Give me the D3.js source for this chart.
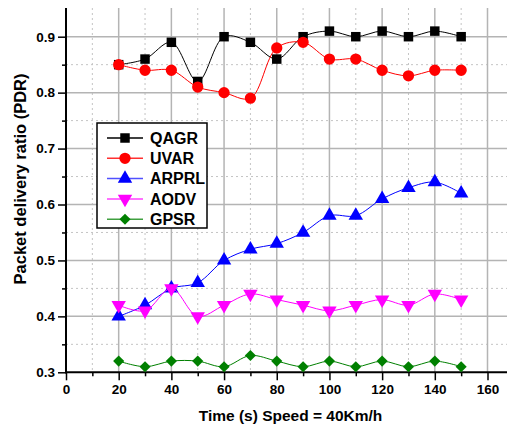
<!DOCTYPE html>
<html>
<head>
<meta charset="utf-8">
<script src="https://cdn.jsdelivr.net/npm/d3@7"></script>
<style>
  body { margin: 0; background: #fff; }
  svg { display: block; font-family: Arial, "Liberation Sans", sans-serif; }
</style>
</head>
<body>
<div id="chart"></div>
<script>
// data
const times = [20, 30, 40, 50, 60, 70, 80, 90, 100, 110, 120, 130, 140, 150];
const seriesNames = ["QAGR", "UVAR", "ARPRL", "AODV", "GPSR"];
const qagr  = [0.85, 0.86, 0.89, 0.82, 0.90, 0.89, 0.86, 0.90, 0.91, 0.90, 0.91, 0.90, 0.91, 0.90];
const uvar  = [0.85, 0.84, 0.84, 0.81, 0.80, 0.79, 0.88, 0.89, 0.86, 0.86, 0.84, 0.83, 0.84, 0.84];
const arprl = [0.40, 0.42, 0.45, 0.46, 0.50, 0.52, 0.53, 0.55, 0.58, 0.58, 0.61, 0.63, 0.64, 0.62];
const aodv  = [0.42, 0.41, 0.45, 0.40, 0.42, 0.44, 0.43, 0.42, 0.41, 0.42, 0.43, 0.42, 0.44, 0.43];
const gpsr  = [0.32, 0.31, 0.32, 0.32, 0.31, 0.33, 0.32, 0.31, 0.32, 0.31, 0.32, 0.31, 0.32, 0.31];
const xTicks = [0, 20, 40, 60, 80, 100, 120, 140, 160];
const yTicks = [0.3, 0.4, 0.5, 0.6, 0.7, 0.8, 0.9];

const width = 507, height = 428;
const plotLeft = 66, plotRight = 487.5, plotTop = 8, plotBottom = 372.3;

const svg = d3.select("#chart").append("svg")
    .attr("width", width)
    .attr("height", height);

const x = d3.scaleLinear().domain([0, 160]).range([plotLeft, plotRight]);
const y = d3.scaleLinear().domain([0.3, 0.9]).range([plotBottom, 36.7]);

// rotate: degrees applied to the symbol (down triangle, diamond from a square)
const styles = [
    { color: "#000000", legendColor: "#000000", symbol: d3.symbolSquare, size: 90, rotate: 0 },
    { color: "#ff0000", legendColor: "#ff3030", symbol: d3.symbolCircle, size: 100, rotate: 0 },
    { color: "#0000ff", legendColor: "#5050ff", symbol: d3.symbolTriangle, size: 90, rotate: 0 },
    { color: "#ff00ff", legendColor: "#ff40ff", symbol: d3.symbolTriangle, size: 90, rotate: 180 },
    { color: "#008000", legendColor: "#40a040", symbol: d3.symbolSquare, size: 62, rotate: 45 }
];
const allValues = [qagr, uvar, arprl, aodv, gpsr];

// grid: minor dotted, major solid
const minorX = d3.range(10, 170, 20);
const minorY = d3.range(0.35, 0.95, 0.1);
const grid = svg.append("g");
grid.selectAll(".mx").data(minorX).join("line")
    .attr("x1", d => x(d)).attr("x2", d => x(d))
    .attr("y1", plotTop).attr("y2", plotBottom)
    .attr("stroke", "#c4c4c4").attr("stroke-dasharray", "2,3");
grid.selectAll(".my").data(minorY).join("line")
    .attr("x1", plotLeft).attr("x2", width)
    .attr("y1", d => y(d)).attr("y2", d => y(d))
    .attr("stroke", "#c4c4c4").attr("stroke-dasharray", "2,3");
grid.selectAll(".gx").data(xTicks.slice(1)).join("line")
    .attr("x1", d => x(d)).attr("x2", d => x(d))
    .attr("y1", plotTop).attr("y2", plotBottom)
    .attr("stroke", "#b4b4b4").attr("stroke-width", 1.5);
grid.selectAll(".gy").data(yTicks.slice(1)).join("line")
    .attr("x1", plotLeft).attr("x2", width)
    .attr("y1", d => y(d)).attr("y2", d => y(d))
    .attr("stroke", "#b4b4b4").attr("stroke-width", 1.5);

// axes
const xAxis = svg.append("g")
    .attr("transform", `translate(0,${plotBottom})`)
    .call(d3.axisBottom(x).tickValues(xTicks).tickSize(8).tickPadding(4).tickFormat(d3.format("d")));
const xMinor = svg.append("g")
    .attr("transform", `translate(0,${plotBottom})`)
    .call(d3.axisBottom(x).tickValues(minorX).tickSize(4).tickFormat(""));
const yAxis = svg.append("g")
    .attr("transform", `translate(${plotLeft},0)`)
    .call(d3.axisLeft(y).tickValues(yTicks).tickSize(8).tickPadding(3).tickFormat(d3.format(".1f")));
const yMinor = svg.append("g")
    .attr("transform", `translate(${plotLeft},0)`)
    .call(d3.axisLeft(y).tickValues(minorY).tickSize(4).tickFormat(""));

[xAxis, xMinor, yAxis, yMinor].forEach(g => {
    g.select(".domain").remove();
    g.selectAll("line").attr("stroke", "#000").attr("stroke-width", 1.5);
    g.selectAll("text").attr("font-size", 13.5).attr("font-weight", "bold")
        .attr("font-family", "Arial, 'Liberation Sans', sans-serif").attr("fill", "#000");
});

svg.append("line").attr("x1", plotLeft).attr("x2", plotLeft).attr("y1", plotTop).attr("y2", plotBottom + 1)
    .attr("stroke", "#000").attr("stroke-width", 2);
svg.append("line").attr("x1", plotLeft - 1).attr("x2", width).attr("y1", plotBottom).attr("y2", plotBottom)
    .attr("stroke", "#000").attr("stroke-width", 2);

// axis titles
svg.append("text")
    .attr("transform", `translate(26,179) rotate(-90)`)
    .attr("text-anchor", "middle")
    .attr("font-size", 16.5).attr("font-weight", "bold")
    .text("Packet delivery ratio (PDR)");
svg.append("text")
    .attr("x", 290.5).attr("y", 421)
    .attr("text-anchor", "middle")
    .attr("font-size", 15.5).attr("font-weight", "bold")
    .text("Time (s) Speed = 40Km/h");

// series
const line = d3.line()
    .x((d, i) => x(times[i]))
    .y(d => y(d))
    .curve(d3.curveCatmullRom.alpha(0.5));

const symbolPath = s => d3.symbol().type(s.symbol).size(s.size)();

allValues.forEach((vals, k) => {
    const s = styles[k];
    svg.append("path")
        .attr("d", line(vals))
        .attr("fill", "none")
        .attr("stroke", s.color)
        .attr("stroke-width", 1);
    svg.append("g").selectAll("path").data(vals).join("path")
        .attr("d", symbolPath(s))
        .attr("transform", (d, i) => `translate(${x(times[i])},${y(d)}) rotate(${s.rotate})`)
        .attr("fill", s.color);
});

// legend
const legend = svg.append("g").attr("transform", "translate(97,123)");
legend.append("rect")
    .attr("width", 110).attr("height", 105)
    .attr("fill", "#fff").attr("stroke", "#000").attr("stroke-width", 1.5);
const item = legend.selectAll(".item").data(seriesNames).join("g")
    .attr("transform", (d, i) => `translate(0,${15 + i * 20.3})`);
item.append("line")
    .attr("x1", 10).attr("x2", 46)
    .attr("stroke", (d, i) => styles[i].legendColor)
    .attr("stroke-width", 1.5);
item.append("path")
    .attr("d", (d, i) => symbolPath(styles[i]))
    .attr("transform", (d, i) => `translate(28,0) rotate(${styles[i].rotate})`)
    .attr("fill", (d, i) => styles[i].color);
item.append("text")
    .attr("x", 53).attr("dy", "0.36em")
    .attr("font-size", 16).attr("font-weight", "bold")
    .text(d => d);
</script>
</body>
</html>
